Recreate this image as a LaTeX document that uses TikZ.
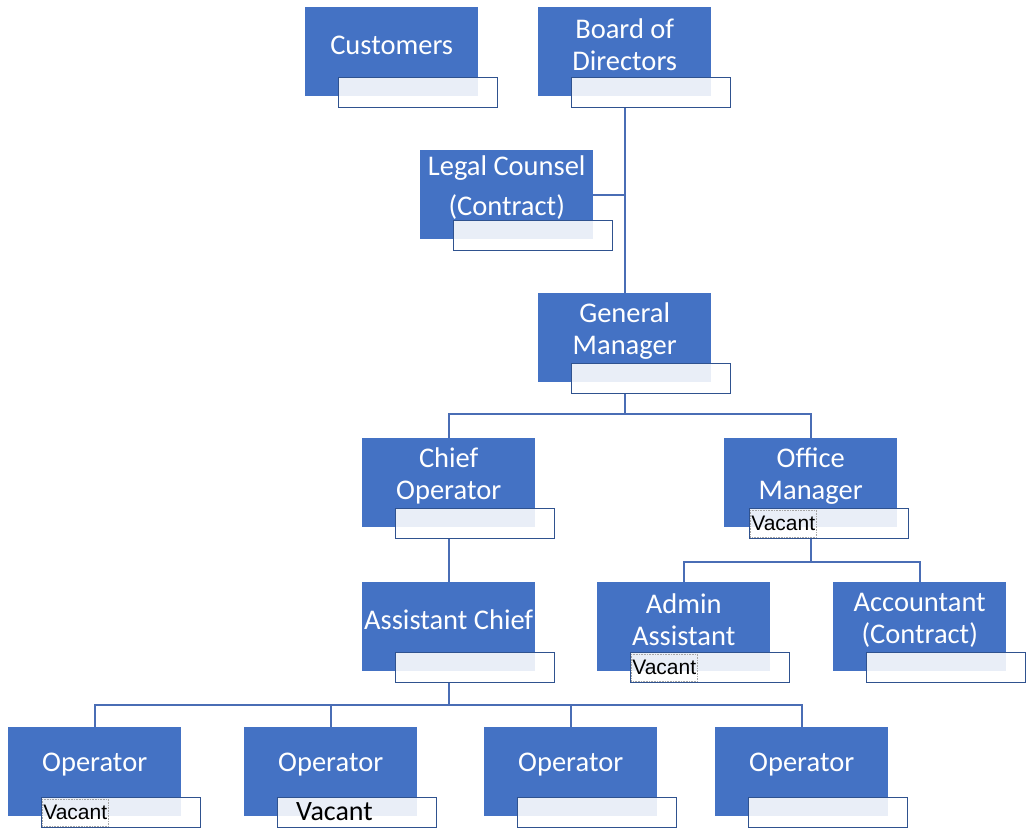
\documentclass[tikz,border=0pt]{standalone}
\usepackage{fontspec}
\setmainfont{Carlito}
\newfontfamily\arialf{Liberation Sans}
\usetikzlibrary{calc}
\definecolor{obl}{HTML}{4472C4}
\definecolor{obd}{HTML}{2F528F}
\definecolor{lnk}{HTML}{4A6DB5}
\definecolor{band}{HTML}{E9EEF7}
\tikzset{
  blue box/.style={fill=obl, draw=none, minimum width=173pt, minimum height=89pt, anchor=north west, inner sep=0pt},
  name box/.style={fill=white, draw=obd, line width=1.3pt, minimum width=159pt, minimum height=30pt, anchor=north west, inner sep=0pt},
  title/.style={text=white, font=\fontsize{28.5}{32}\selectfont, align=center, inner sep=0pt},
  link/.style={draw=lnk, line width=1.8pt},
  vac/.style={anchor=west, font=\arialf\fontsize{21}{22}\selectfont, text=black, draw=black!35, densely dotted, line width=0.6pt, inner sep=1pt, minimum height=27pt},
  vacbig/.style={anchor=west, font=\fontsize{28}{30}\selectfont, text=black, inner sep=0pt, text depth=0pt, text height=18pt},
}
% #1 = offset of the name box, #2 name, #3 x, #4 y, #5 text
\newcommand\orgunit[5][33]{%
  \node[blue box] (#2) at (#3,#4) {};
  \node[name box] (#2w) at ($(#2.north west)+(#1,70)$) {};
  \fill[band] ($(#2w.north west)+(0.8,0.8)$) rectangle ($(#2.south east)+(0,-0.5)$);
  \node[title] (#2t) at ($(#2.north)+(0,38)$) {#5};
}
\begin{document}
\begin{tikzpicture}[x=1pt,y=-1pt]
\useasboundingbox (0,0) rectangle (1027,827);
% units
\orgunit{cust}{305}{7}{Customers}
\orgunit{bod}{538}{7}{Board of\\Directors}
\orgunit{legal}{420}{150}{Legal Counsel\\[8pt](Contract)}
\orgunit{gm}{538}{293}{General\\Manager}
\orgunit{chief}{362}{438}{Chief\\Operator}
\orgunit[25]{office}{724}{438}{Office\\Manager}
\orgunit{asst}{362}{582}{Assistant Chief}
\orgunit{admin}{597}{582}{Admin\\Assistant}
\orgunit{acct}{833}{582}{Accountant\\(Contract)}
\orgunit{opa}{8}{727}{Operator}
\orgunit{opb}{244}{727}{Operator}
\orgunit{opc}{484}{727}{Operator}
\orgunit{opd}{715}{727}{Operator}
% connectors
\draw[link] (bod.center |- bodw.south) -- (gm.north);
\draw[link] (legal.east) -- (legal.east -| bod.center);
\coordinate (j1) at ($(gm.center |- gmw.south)+(0,20)$);
\draw[link] (gm.center |- gmw.south) -- (j1);
\draw[link] (chief.north) |- (j1) -| (office.north);
\draw[link] (chief.center |- chiefw.south) -- (asst.north);
\coordinate (j2) at ($(office.center |- officew.south)+(0,23)$);
\draw[link] (office.center |- officew.south) -- (j2);
\draw[link] (admin.north) |- (j2) -| (acct.north);
\coordinate (j3) at ($(asst.center |- asstw.south)+(0,22)$);
\draw[link] (asst.center |- asstw.south) -- (j3);
\draw[link] (opa.north) |- (j3) -| (opd.north);
\draw[link] (opb.north) -- (opb.north |- j3);
\draw[link] (opc.north) -- (opc.north |- j3);
% vacant labels
\node[vac] (officev) at ($(officew.west)+(1,0)$) {Vacant};
\node[vac] (adminv) at ($(adminw.west)+(1,0)$) {Vacant};
\node[vac] (opav) at ($(opaw.west)+(1,0)$) {Vacant};
\node[vacbig] (opbv) at ($(opbw.west)+(19,-1)$) {Vacant};
\end{tikzpicture}
\end{document}
